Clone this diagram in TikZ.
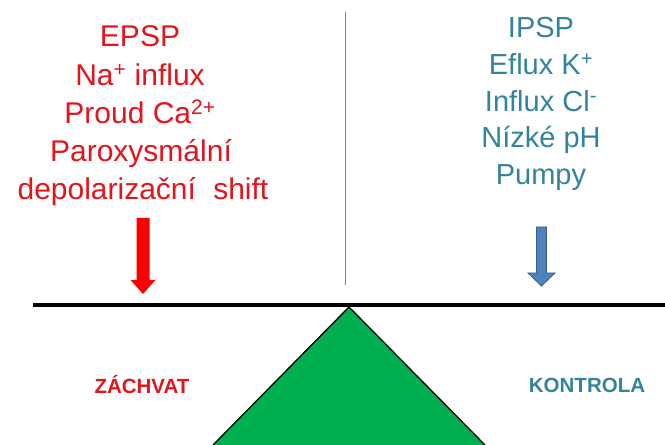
\documentclass[tikz,border=0pt]{standalone}
\usepackage{fontspec}
\setmainfont{Liberation Sans}
\definecolor{redtxt}{RGB}{226,20,28}
\definecolor{tealtxt}{RGB}{49,132,155}
\definecolor{arrowred}{RGB}{255,0,0}
\definecolor{arrowblue}{RGB}{79,129,189}
\definecolor{arrowblueline}{RGB}{56,93,138}
\definecolor{fulcrum}{RGB}{0,176,80}
\begin{document}
\begin{tikzpicture}[x=1pt,y=1pt,
  lefttext/.style={text=redtxt, font=\fontsize{30}{36}\selectfont, anchor=base, inner sep=0pt},
  righttext/.style={text=tealtxt, font=\fontsize{29}{35}\selectfont, anchor=base, inner sep=0pt},
  sidelabel/.style={font=\bfseries\fontsize{20.5}{24}\selectfont, anchor=base, inner sep=0pt}]
\useasboundingbox (0,0) rectangle (665,445);
% left text block
\node[lefttext] (l1) at (140,398) {EPSP};
\node[lefttext] (l2) at (140,359.75) {Na\textsuperscript{+} influx};
\node[lefttext] (l3) at (140,321.5) {Proud Ca\textsuperscript{2+}};
\node[lefttext] (l4) at (141,283.25) {Paroxysmální};
\node[lefttext] (l5) at (143,245) {depolarizační\hspace{9pt} shift};
% right text block
\node[righttext] (r1) at (541,407) {IPSP};
\node[righttext] (r2) at (541,370) {Eflux K\textsuperscript{+}};
\node[righttext] (r3) at (541,333) {Influx Cl\textsuperscript{-}};
\node[righttext] (r4) at (541,297) {Nízké pH};
\node[righttext] (r5) at (541,260) {Pumpy};
% divider
\draw[gray, line width=0.8pt] (345,433) -- (345,160);
% beam
\draw[black, line width=4pt] (33,140) -- (665,140);
% fulcrum
\fill[fulcrum] (213,0) -- (349,138) -- (485,0) -- cycle;
\draw[black, line width=1.3pt, line join=miter] (213,0) -- (349,138) -- (485,0);
% red block arrow
\fill[arrowred] (136.5,227) -- (149.5,227) -- (149.5,165) -- (155.5,165) -- (143,151) -- (130.5,165) -- (136.5,165) -- cycle;
% blue block arrow
\filldraw[fill=arrowblue, draw=arrowblueline, line width=0.8pt] (536.5,218) -- (546.5,218) -- (546.5,172) -- (555,172) -- (541.5,159) -- (528,172) -- (536.5,172) -- cycle;
% labels
\node[sidelabel, text=redtxt] (zachvat) at (142,51) {ZÁCHVAT};
\node[sidelabel, text=tealtxt] (kontrola) at (587,52) {KONTROLA};
\end{tikzpicture}
\end{document}
